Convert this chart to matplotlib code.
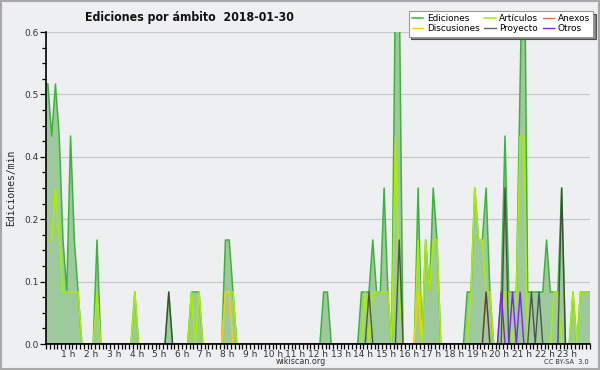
import numpy as np
import matplotlib
matplotlib.use("Agg")
import matplotlib.pyplot as plt
from matplotlib.ticker import FixedLocator, MultipleLocator, FormatStrFormatter
from matplotlib.patches import Rectangle

# edits per minute, 10 minute bins (6 per hour, one row per hour)
ediciones = [
    0.5, 0.4, 0.5, 0.4, 0.2, 0.1,   # 0 h
    0.4, 0.2, 0.1, 0, 0, 0,         # 1 h
    0, 0.2, 0, 0, 0, 0,             # 2 h
    0, 0, 0, 0, 0, 0.1,             # 3 h
    0, 0, 0, 0, 0, 0,               # 4 h
    0, 0, 0.1, 0, 0, 0,             # 5 h
    0, 0, 0.1, 0.1, 0.1, 0,         # 6 h
    0, 0, 0, 0, 0, 0.2,             # 7 h
    0.2, 0.1, 0, 0, 0, 0,           # 8 h
    0, 0, 0, 0, 0, 0,               # 9 h
    0, 0, 0, 0, 0, 0,               # 10 h
    0, 0, 0, 0, 0, 0,               # 11 h
    0, 0.1, 0.1, 0, 0, 0,           # 12 h
    0, 0, 0, 0, 0, 0.1,             # 13 h
    0.1, 0.1, 0.2, 0.1, 0.1, 0.3,   # 14 h
    0.1, 0, 0.7, 0.7, 0, 0,         # 15 h
    0, 0, 0.3, 0, 0.2, 0.1,         # 16 h
    0.3, 0.2, 0, 0, 0, 0,           # 17 h
    0, 0, 0, 0.1, 0.1, 0.3,         # 18 h
    0.2, 0.2, 0.3, 0.1, 0, 0,       # 19 h
    0.1, 0.4, 0.1, 0.1, 0.1, 0.5,   # 20 h
    0.9, 0.1, 0.1, 0.1, 0.1, 0.1,   # 21 h
    0.2, 0.1, 0.1, 0.1, 0.3, 0,     # 22 h
    0, 0.1, 0, 0.1, 0.1, 0.1,       # 23 h
]
articulos = [
    0.2, 0.2, 0.3, 0.2, 0.1, 0.1,
    0.1, 0.1, 0.1, 0, 0, 0,
    0, 0.1, 0, 0, 0, 0,
    0, 0, 0, 0, 0, 0.1,
    0, 0, 0, 0, 0, 0,
    0, 0, 0, 0, 0, 0,
    0, 0, 0.1, 0, 0.1, 0,
    0, 0, 0, 0, 0, 0.1,
    0.1, 0.1, 0, 0, 0, 0,
    0, 0, 0, 0, 0, 0,
    0, 0, 0, 0, 0, 0,
    0, 0, 0, 0, 0, 0,
    0, 0, 0, 0, 0, 0,
    0, 0, 0, 0, 0, 0,
    0.1, 0, 0.1, 0.1, 0.1, 0.1,
    0.1, 0, 0.4, 0.1, 0, 0,
    0, 0, 0.2, 0, 0.2, 0.1,
    0.2, 0.2, 0, 0, 0, 0,
    0, 0, 0, 0, 0.1, 0.3,
    0.2, 0.2, 0.1, 0.1, 0, 0,
    0, 0.1, 0.1, 0, 0.1, 0.4,
    0.4, 0, 0, 0, 0, 0,
    0, 0, 0.1, 0.1, 0, 0,
    0, 0.1, 0, 0.1, 0.1, 0.1,
]
anexos_bin = [116]
anexos_val = [0.1]
discusiones_bin = [47, 48, 98]
discusiones_val = [0.1, 0.1, 0.1]
proyecto_bin = [32, 85, 93, 116, 121, 128, 130, 136]
proyecto_val = [0.1, 0.1, 0.2, 0.1, 0.3, 0.1, 0.1, 0.3]
otros_bin = [120, 123, 125]
otros_val = [0.1, 0.1, 0.1]

hour_labels = [f"{h} h" for h in range(1, 24)]
y_ticks = [0, 0.12, 0.24, 0.36, 0.48, 0.6]

n = len(ediciones)


def full(bins, vals):
    s = np.zeros(n)
    s[bins] = vals
    return s


def padded(s):
    # bin centres, stretched to the 0 h and 24 h edges
    t = (np.arange(n) + 0.5) / 6
    return np.concatenate([[0], t, [24]]), np.concatenate([[s[0]], s, [s[-1]]])


bg = "#eeeff1"
fig = plt.figure(figsize=(6, 3.7), dpi=100, facecolor=bg)
ax = fig.add_axes([46 / 600, 26 / 370, 544 / 600, 312 / 370], facecolor=bg)

x, y = padded(np.array(ediciones))
ax.fill_between(x, 0, y, color="#9ec99c", lw=0, zorder=2)
ax.plot(x, y, color="#3cb43c", lw=1.1, zorder=3, label="Ediciones")

series = [
    ("Artículos", np.array(articulos), "#aaee00", 1.1, 1.0),
    ("Anexos", full(anexos_bin, anexos_val), "#ee7040", 1.0, 1.0),
    ("Discusiones", full(discusiones_bin, discusiones_val), "#ffcc00", 1.0, 1.0),
    ("Proyecto", full(proyecto_bin, proyecto_val), "#303030", 1.0, 0.75),
    ("Otros", full(otros_bin, otros_val), "#8020ff", 1.0, 1.0),
]
handles = {"Ediciones": ax.lines[0]}
for name, s, c, lw, a in series:
    xs, ys = padded(s)
    (ln,) = ax.plot(xs, ys, color=c, lw=lw, alpha=a, zorder=4, label=name)
    handles[name] = ln

ax.set_xlim(0, 24)
ax.set_ylim(0, 0.6)

ax.yaxis.set_major_locator(FixedLocator(y_ticks))
ax.yaxis.set_major_formatter(FormatStrFormatter("%.1f"))
ax.yaxis.set_minor_locator(MultipleLocator(0.03))
ax.xaxis.set_major_locator(FixedLocator(range(1, 24)))
ax.set_xticklabels(hour_labels)
ax.xaxis.set_minor_locator(MultipleLocator(1 / 6))

ax.grid(axis="y", color="#c8c8c8", lw=0.9, zorder=1)
ax.set_axisbelow(True)
for side in ("top", "right"):
    ax.spines[side].set_visible(False)
for side in ("left", "bottom"):
    ax.spines[side].set_color("black")
    ax.spines[side].set_linewidth(1.2)
    ax.spines[side].set_zorder(6)

ax.tick_params(axis="both", which="both", direction="out", color="black",
               labelsize=6.5, labelcolor="#333333", width=0.9)
ax.tick_params(axis="y", which="major", length=4, pad=1.5)
ax.tick_params(axis="y", which="minor", length=3)
ax.tick_params(axis="x", which="major", length=3.5, pad=0.5)
ax.tick_params(axis="x", which="minor", length=3.5)

ax.set_ylabel("Ediciones/min", family="DejaVu Sans Mono", fontsize=7,
              color="#222222", labelpad=6)

fig.text(85 / 600, 1 - 17 / 370, "Ediciones por ámbito  2018-01-30",
         fontsize=8.8, fontweight="bold", ha="left", va="center",
         family="DejaVu Sans", fontstretch="condensed", color="#111111")

order = ["Ediciones", "Discusiones", "Artículos", "Proyecto", "Anexos", "Otros"]
leg = ax.legend([handles[k] for k in order], order, ncol=3,
                loc="upper right", bbox_to_anchor=(593 / 600, 1 - 11 / 370),
                bbox_transform=fig.transFigure, fontsize=6.4,
                frameon=True, fancybox=False,
                shadow={"facecolor": "#888888", "alpha": 1},
                handlelength=1.3, handletextpad=0.4, columnspacing=0.5,
                labelspacing=0.15, borderpad=0.35, borderaxespad=0)
leg.get_frame().set_edgecolor("#999999")
leg.get_frame().set_linewidth(0.8)
leg.set_zorder(10)

fig.text(301 / 600, 1 - 362 / 370, "wikiscan.org", fontsize=5.8,
         ha="center", va="center", color="#333333")
fig.text(589 / 600, 1 - 362 / 370, "CC BY-SA  3.0", fontsize=4.8,
         ha="right", va="center", color="#333333")

fig.patches.append(Rectangle((0.002, 0.003), 0.996, 0.994,
                             transform=fig.transFigure, fill=False,
                             edgecolor="#a8a8a8", lw=1.5))

fig.savefig("out.png", dpi=100, facecolor=bg)
